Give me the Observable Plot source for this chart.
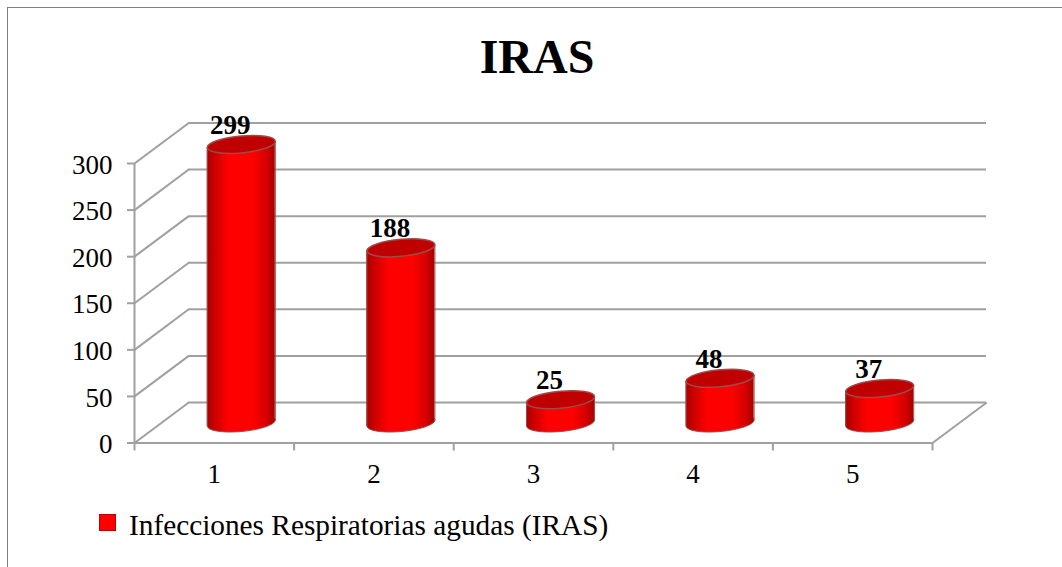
<!DOCTYPE html>
<html><head><meta charset="utf-8">
<script src="https://cdn.jsdelivr.net/npm/d3@7"></script>
<script src="https://cdn.jsdelivr.net/npm/@observablehq/plot@0.6"></script>
<style>
html,body{margin:0;padding:0;background:#fff;overflow:hidden}
body{width:1062px;height:567px;position:relative;font-family:"Liberation Serif",serif;color:#000}
#frame{position:absolute;left:7px;top:7px;right:-2px;bottom:-2px;border-left:1px solid #808080;border-top:1px solid #808080}
#title{position:relative;padding-top:7px;height:93px;line-height:100px;text-align:center;font-size:48px;font-weight:bold;left:6px}
#chart{position:relative;height:370px}
#chart svg{display:block}
#legend{position:relative;height:97px}
#swatch{position:absolute;left:99px;top:44px;width:15px;height:15px;background:#ff0000;border:1px solid #c00000}
#ltext{position:absolute;left:129px;top:34px;font-size:29.3px;line-height:42px;white-space:nowrap}
</style></head>
<body>
<div id="frame"></div>
<div id="title">IRAS</div>
<div id="chart"></div>
<div id="legend"><div id="swatch"></div><div id="ltext">Infecciones Respiratorias agudas (IRAS)</div></div>
<script>
const categories = ["1","2","3","4","5"];
const values = [299,188,25,48,37];
const yTicks = [0,50,100,150,200,250,300];
const xEdges = [0,1,2,3,4,5];
const xCenters = [0.5,1.5,2.5,3.5,4.5];

const gridColor = "#a0a0a0";
const depthX = 0.34, depthY = 43.5;
const barDx = 27, barDy = -20, halfW = 0.213, tilt = 3.2;

const ellipse = {
  draw(ctx, size) {
    const a = Math.sqrt(size / Math.PI), b = a * 0.25, k = 0.088, c = 0.5523;
    const P = (x, y) => [x * a, y * b - x * a * k];
    const bz = (p1, p2, p3) => ctx.bezierCurveTo(...P(...p1), ...P(...p2), ...P(...p3));
    ctx.moveTo(...P(1, 0));
    bz([1, c], [c, 1], [0, 1]);
    bz([-c, 1], [-1, c], [-1, 0]);
    bz([-1, -c], [-c, -1], [0, -1]);
    bz([c, -1], [1, -c], [1, 0]);
    ctx.closePath();
  }
};

const bars = values.map((v, i) => ({cat: categories[i], c: xCenters[i], v}));
const body = bars.flatMap(d => [
  {cat: d.cat, x: d.c - halfW, y1: -tilt, y2: d.v - tilt},
  {cat: d.cat, x: d.c + halfW, y1: tilt, y2: d.v + tilt}
]);

const defs = () => {
  const s = d3.create("svg:defs");
  const g = s.append("linearGradient").attr("id", "cyl").attr("x1", 0).attr("x2", 1).attr("y1", 0).attr("y2", 0);
  [[0,"#a80000"],[0.12,"#cc0000"],[0.32,"#ff0000"],[0.68,"#ff0000"],[0.88,"#d40000"],[1,"#a80000"]]
    .forEach(([o,c]) => g.append("stop").attr("offset", o).attr("stop-color", c));
  return s.node();
};

const edge = "#9c4a4a";
const chart = Plot.plot({
  width: 1062, height: 370,
  marginLeft: 134, marginRight: 130, marginTop: 63, marginBottom: 27.5,
  x: {type: "linear", domain: [0,5], axis: null},
  y: {domain: [0,300], axis: null},
  style: {fontFamily: "'Liberation Serif', serif", fontSize: "27px", color: "#000", background: "transparent", overflow: "visible"},
  marks: [
    defs,
    // back wall and side wall
    Plot.ruleY(yTicks, {x1: 0, x2: 5, dx: 54, dy: -40.5, stroke: gridColor, strokeWidth: 2}),
    Plot.link(yTicks, {x1: 0, y1: d => d, x2: depthX, y2: d => d + depthY, stroke: gridColor, strokeWidth: 2}),
    Plot.link([5], {x1: d => d, y1: 0, x2: d => d + depthX, y2: depthY, stroke: gridColor, strokeWidth: 2}),
    Plot.ruleX([0], {y1: 0, y2: 300, stroke: gridColor, strokeWidth: 2}),
    Plot.ruleY([0], {x1: 0, x2: 5, stroke: gridColor, strokeWidth: 2}),
    // axes
    Plot.axisY(yTicks, {anchor: "left", tickSize: 7, stroke: gridColor, strokeWidth: 2, tickFormat: () => ""}),
    Plot.axisY(yTicks, {anchor: "left", tickSize: 0, tickPadding: 22, dy: 1.5, fill: "#000", fontSize: 27}),
    Plot.axisX(xEdges, {anchor: "bottom", tickSize: 8, stroke: gridColor, strokeWidth: 2, tickFormat: () => ""}),
    Plot.axisX(xCenters, {anchor: "bottom", tickSize: 0, tickPadding: 21, fill: "#000", fontSize: 27, tickFormat: d => categories[xCenters.indexOf(d)]}),
    // cylinders
    Plot.dot(bars, {x: "c", y: 0, r: 34, symbol: ellipse, dx: barDx, dy: barDy, fill: "url(#cyl)", stroke: edge, strokeWidth: 1}),
    Plot.area(body, {x1: "x", y1: "y1", y2: "y2", z: "cat", fill: "url(#cyl)", dx: barDx, dy: barDy}),
    Plot.link(body, {x1: "x", x2: "x", y1: "y1", y2: "y2", stroke: edge, strokeWidth: 1, dx: barDx, dy: barDy}),
    Plot.dot(bars, {x: "c", y: "v", r: 34, symbol: ellipse, dx: barDx, dy: barDy, fill: "#c00000", stroke: edge, strokeWidth: 1.5}),
    // value labels
    Plot.text(bars, {x: "c", y: "v", text: d => String(d.v), dx: barDx - 11, dy: barDy - 19, fontWeight: "bold", fontSize: 27, fill: "#000"})
  ]
});
document.getElementById("chart").appendChild(chart);
</script>
</body></html>
